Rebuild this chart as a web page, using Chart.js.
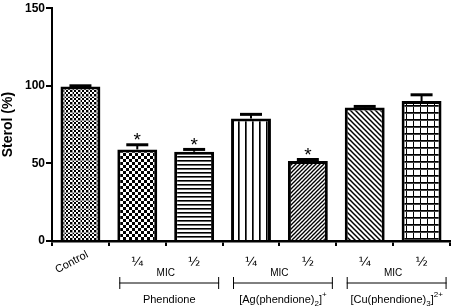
<!DOCTYPE html>
<html><head><meta charset="utf-8">
<script src="https://cdn.jsdelivr.net/npm/chart.js@4.4.1/dist/chart.umd.min.js"></script>
<style>html,body{margin:0;padding:0;background:#fff}#wrap{width:454px;height:308px}</style>
</head><body><div id="wrap"><canvas id="c"></canvas></div>
<script>
const categories = ['Control', '¼', '½', '¼', '½', '¼', '½'];
const sterol = [99.5, 59, 57.5, 79, 51.5, 86, 90.2];
const sem = [0.5, 3, 1.5, 2.6, 1, 0.7, 4];
const significant = [false, true, true, false, true, false, false];
const groups = [
  {from: 1, to: 2, label: 'Phendione'},
  {from: 3, to: 4, label: 'Ag'},
  {from: 5, to: 6, label: 'Cu'}
];
const yTicks = [0, 50, 100, 150];

function tile(w, h, draw) {
  const c = document.createElement('canvas'); c.width = w; c.height = h;
  const g = c.getContext('2d'); g.fillStyle = '#fff'; g.fillRect(0, 0, w, h);
  g.fillStyle = '#000'; g.strokeStyle = '#000'; draw(g);
  return document.getElementById('c').getContext('2d').createPattern(c, 'repeat');
}
const patterns = [
  tile(8, 8, g => { for (let i=0;i<8;i+=2) for (let j=0;j<8;j+=2) if (((i+j)/2)%2===0) g.fillRect(i,j,2,2);
     g.fillStyle='#999'; g.fillRect(0,0,8,1); g.fillRect(0,0,1,8); }),
  tile(6, 6, g => { g.fillRect(0,0,3,3); g.fillRect(3,3,3,3); }),
  tile(4, 4, g => { g.fillRect(0,0,4,1); g.fillStyle='#666'; g.fillRect(0,1,4,1); }),
  tile(7, 4, g => { g.fillRect(0,0,1,4); g.fillStyle='#555'; g.fillRect(1,0,1,4); }),
  tile(4, 4, g => { g.lineWidth=1.3; for (let k=-1;k<=2;k++){ g.beginPath(); g.moveTo(k*4-1,5); g.lineTo(k*4+5,-1); g.stroke(); } }),
  tile(5, 5, g => { g.lineWidth=1.5; for (let k=-1;k<=1;k++){ g.beginPath(); g.moveTo(k*5-1,-1); g.lineTo(k*5+6,6); g.stroke(); } }),
  tile(7, 7, g => { g.fillRect(0,0,7,1); g.fillRect(0,0,1,7); g.fillStyle='#444'; g.fillRect(0,1,7,1); })
];

const FONT = '"Liberation Sans", Arial, sans-serif';

const decor = {
  id: 'decor',
  afterDatasetsDraw(chart) {
    const {ctx, scales: {x, y}} = chart;
    const meta = chart.getDatasetMeta(0);
    ctx.save();
    // error bars
    meta.data.forEach((bar, i) => {
      const cx = bar.x, top = y.getPixelForValue(sterol[i]), cap = y.getPixelForValue(sterol[i] + sem[i]);
      ctx.strokeStyle = '#000'; ctx.lineWidth = 2;
      ctx.beginPath(); ctx.moveTo(cx, top); ctx.lineTo(cx, cap); ctx.stroke();
      ctx.lineWidth = 3;
      ctx.beginPath(); ctx.moveTo(cx - 11, cap); ctx.lineTo(cx + 11, cap); ctx.stroke();
      if (significant[i]) {
        ctx.fillStyle = '#000'; ctx.font = '19px ' + FONT; ctx.textAlign = 'center'; ctx.textBaseline = 'middle';
        ctx.fillText('*', cx, cap - 4);
      }
    });
    // x labels
    ctx.fillStyle = '#000';
    const base = y.getPixelForValue(0);
    categories.forEach((lab, i) => {
      const cx = x.getPixelForValue(i);
      if (i === 0) {
        ctx.save(); ctx.translate(cx + 7, base + 13); ctx.rotate(-Math.PI / 6.5);
        ctx.font = '11px ' + FONT; ctx.textAlign = 'right'; ctx.textBaseline = 'middle';
        ctx.fillText(lab, 0, 0); ctx.restore();
      } else {
        ctx.font = '13px "DejaVu Sans", sans-serif'; ctx.textAlign = 'center'; ctx.textBaseline = 'middle';
        ctx.fillText(lab, cx, base + 22);
      }
    });
    // groups
    groups.forEach(gr => {
      const c1 = x.getPixelForValue(gr.from), c2 = x.getPixelForValue(gr.to);
      ctx.font = '10px ' + FONT; ctx.textAlign = 'center'; ctx.textBaseline = 'middle';
      ctx.fillText('MIC', (c1 + c2) / 2, base + 32);
      const l = c1 - 18, r = c2 + 25, yy = base + 42;
      ctx.strokeStyle = '#000'; ctx.lineWidth = 1;
      ctx.beginPath(); ctx.moveTo(l, yy); ctx.lineTo(r, yy);
      ctx.moveTo(l + 0.5, yy - 6); ctx.lineTo(l + 0.5, yy + 6);
      ctx.moveTo(r - 0.5, yy - 6); ctx.lineTo(r - 0.5, yy + 6); ctx.stroke();
      const mid = (l + r) / 2, ty = base + 59;
      ctx.textBaseline = 'alphabetic';
      if (gr.label === 'Phendione') {
        ctx.font = '11px ' + FONT; ctx.fillText('Phendione', mid, ty + 3);
      } else {
        const parts = gr.label === 'Ag'
          ? [['[Ag(phendione)', 11, 0], ['2', 8, 3], [']', 11, 0], ['+', 8, -6]]
          : [['[Cu(phendione)', 11, 0], ['3', 8, 3], [']', 11, 0], ['2+', 8, -6]];
        let w = 0;
        parts.forEach(p => { ctx.font = p[1] + 'px ' + FONT; w += ctx.measureText(p[0]).width; });
        let px = mid - w / 2; ctx.textAlign = 'left';
        parts.forEach(p => { ctx.font = p[1] + 'px ' + FONT; ctx.fillText(p[0], px, ty + 3 + p[2]); px += ctx.measureText(p[0]).width; });
      }
    });
    ctx.restore();
  }
};

new Chart(document.getElementById('c'), {
  type: 'bar',
  data: {
    labels: categories,
    datasets: [{
      data: sterol,
      backgroundColor: patterns,
      borderColor: '#000',
      borderWidth: 3,
      borderSkipped: 'start',
      barPercentage: 0.78,
      categoryPercentage: 0.9
    }]
  },
  options: {
    responsive: true, maintainAspectRatio: false, animation: false,
    devicePixelRatio: 1,
    layout: {padding: {top: 6, right: 4, left: 0, bottom: 0}},
    plugins: {legend: {display: false}, tooltip: {enabled: false}},
    scales: {
      x: {
        grid: {display: true, drawOnChartArea: false, tickLength: 5, lineWidth: 2, color: '#000'},
        border: {display: true, width: 2.5, color: '#000'},
        ticks: {display: false},
        afterFit: s => { s.height = 67; }
      },
      y: {
        min: 0, max: 150,
        afterBuildTicks: s => { s.ticks = yTicks.map(v => ({value: v})); },
        grid: {display: true, drawOnChartArea: false, tickLength: 6, lineWidth: 2, color: '#000'},
        border: {display: true, width: 2, color: '#000'},
        ticks: {color: '#000', font: {family: FONT, size: 12, weight: 'bold'}, padding: 1},
        title: {display: true, text: 'Sterol (%)', color: '#000', font: {family: FONT, size: 14, weight: 'bold'}, padding: {top: 0, bottom: 4}},
        afterFit: s => { s.width = 52; }
      }
    }
  },
  plugins: [decor]
});
</script></body></html>
